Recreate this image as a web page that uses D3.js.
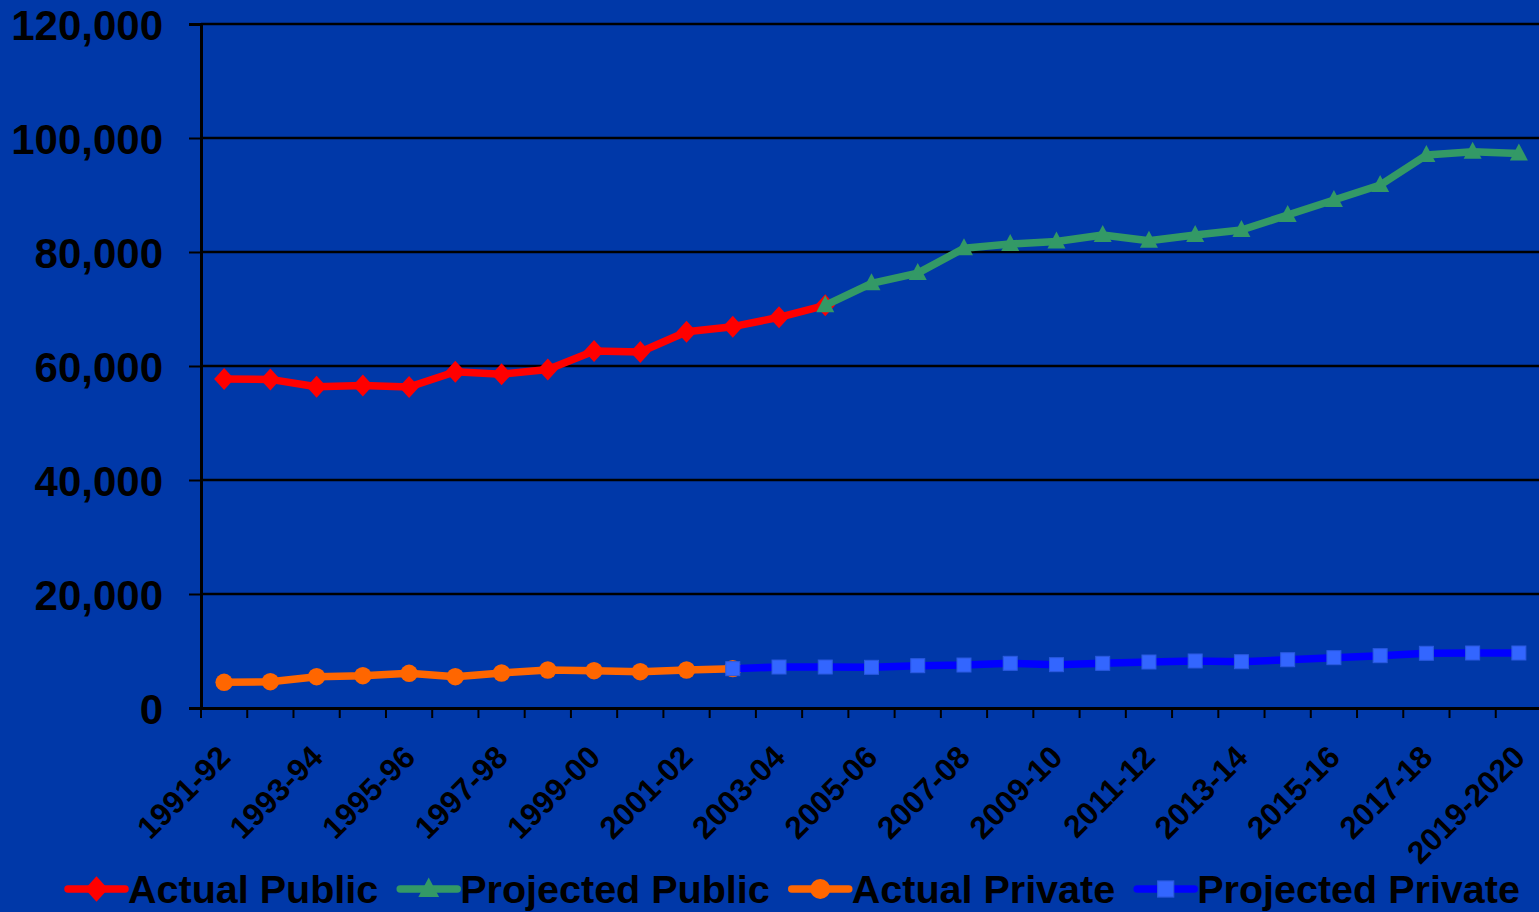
<!DOCTYPE html>
<html>
<head>
<meta charset="utf-8">
<script src="https://cdn.jsdelivr.net/npm/d3@7"></script>
<style>
  html, body { margin: 0; padding: 0; background: #0038a8; overflow: hidden; }
  svg { display: block; }
  text { font-family: "Liberation Sans", Arial, Helvetica, sans-serif; font-weight: bold; fill: #000; }
</style>
</head>
<body>
<svg id="chart" width="1539" height="912"></svg>
<script>
const categories = ["1991-92","1992-93","1993-94","1994-95","1995-96","1996-97","1997-98","1998-99","1999-00","2000-01",
  "2001-02","2002-03","2003-04","2004-05","2005-06","2006-07","2007-08","2008-09","2009-10","2010-11",
  "2011-12","2012-13","2013-14","2014-15","2015-16","2016-17","2017-18","2018-19","2019-2020"];

const yTicks = [0, 20000, 40000, 60000, 80000, 100000, 120000];

const actualPublic = [57700, 57650, 56370, 56600, 56320, 59000, 58550, 59400, 62630, 62450,
  66000, 66900, 68550, 70650, null, null, null, null, null, null,
  null, null, null, null, null, null, null, null, null];

const projectedPublic = [null, null, null, null, null, null, null, null, null, null,
  null, null, null, 70650, 74500, 76300, 80650, 81400, 81850, 82980,
  81980, 82980, 83860, 86490, 89120, 91750, 97000, 97600, 97300];

const actualPrivate = [4510, 4610, 5490, 5670, 6090, 5490, 6140, 6670, 6540, 6370,
  6670, 6900, null, null, null, null, null, null, null, null,
  null, null, null, null, null, null, null, null, null];

const projectedPrivate = [null, null, null, null, null, null, null, null, null, null,
  null, 6900, 7190, 7190, 7140, 7420, 7540, 7840, 7600, 7840,
  8070, 8250, 8120, 8470, 8830, 9180, 9600, 9650, 9650];

const seriesNames = ["Actual Public", "Projected Public", "Actual Private", "Projected Private"];

const svg = d3.select("#chart");
const plotLeft = 201, plotRight = 1542, plotTop = 24, plotBottom = 708;

const x = d3.scaleBand().domain(categories).range([plotLeft, plotRight]).padding(0);
const y = d3.scaleLinear().domain([0, 120000]).range([plotBottom, plotTop]);
const cx = c => x(c) + x.bandwidth() / 2;

// gridlines
svg.append("g").selectAll("line").data(yTicks.filter(d => d > 0)).join("line")
  .attr("x1", plotLeft).attr("x2", plotRight)
  .attr("y1", d => y(d)).attr("y2", d => y(d))
  .attr("stroke", "#000").attr("stroke-width", 2.5);

// y axis
const yAxis = svg.append("g").attr("transform", `translate(${plotLeft},0)`)
  .call(d3.axisLeft(y).tickValues(yTicks).tickFormat(d3.format(",")).tickSize(12).tickPadding(26));
yAxis.select(".domain").attr("stroke", "#000").attr("stroke-width", 3);
yAxis.selectAll(".tick line").attr("stroke", "#000").attr("stroke-width", 2);
yAxis.selectAll(".tick text").attr("font-size", 42).attr("fill", "#000")
  .attr("font-family", '"Liberation Sans", Arial, sans-serif').attr("font-weight", "bold").attr("dy", "0.36em");

// x axis
const xAxis = svg.append("g").attr("transform", `translate(0,${plotBottom})`)
  .call(d3.axisBottom(x).tickSize(0).tickFormat(""));
xAxis.select(".domain").attr("stroke", "#000").attr("stroke-width", 3);
xAxis.selectAll(".tick").remove();
// category boundary ticks
svg.append("g").selectAll("line").data(categories).join("line")
  .attr("x1", d => x(d)).attr("x2", d => x(d))
  .attr("y1", plotBottom).attr("y2", plotBottom + 10)
  .attr("stroke", "#000").attr("stroke-width", 2);

// x labels (every other)
svg.append("g").selectAll("text").data(categories.filter((d, i) => i % 2 === 0)).join("text")
  .attr("transform", d => `translate(${cx(d) + 8},${plotBottom + 51}) rotate(-45)`)
  .attr("text-anchor", "end")
  .attr("font-size", 31.5)
  .text(d => d);

// series
const defs = [
  { name: seriesNames[0], values: actualPublic, stroke: "#ff0000", marker: "diamond", fill: "#ff0000" },
  { name: seriesNames[1], values: projectedPublic, stroke: "#339966", marker: "triangle", fill: "#339966" },
  { name: seriesNames[2], values: actualPrivate, stroke: "#ff6600", marker: "circle", fill: "#ff6600" },
  { name: seriesNames[3], values: projectedPrivate, stroke: "#0000ff", marker: "square", fill: "#3366ff" }
];

function drawMarker(g, type, fill) {
  if (type === "diamond") {
    g.append("path").attr("d", "M0,-11 L10,0 L0,11 L-10,0 Z").attr("fill", fill);
  } else if (type === "triangle") {
    g.append("path").attr("d", "M0,-10 L9,7 L-9,7 Z").attr("fill", fill);
  } else if (type === "circle") {
    g.append("circle").attr("r", 8.7).attr("fill", fill);
  } else if (type === "square") {
    g.append("rect").attr("x", -7).attr("y", -7).attr("width", 14).attr("height", 14)
      .attr("fill", fill).attr("stroke", "#2b5ae0").attr("stroke-width", 1);
  }
}

const line = d3.line()
  .defined(d => d.v != null)
  .x(d => cx(d.c)).y(d => y(d.v));

defs.forEach(s => {
  const pts = categories.map((c, i) => ({ c, v: s.values[i] }));
  const g = svg.append("g");
  g.append("path").datum(pts).attr("d", line)
    .attr("fill", "none").attr("stroke", s.stroke).attr("stroke-width", 7.5)
    .attr("stroke-linejoin", "round");
  pts.filter(p => p.v != null).forEach(p => {
    const mg = g.append("g").attr("transform", `translate(${cx(p.c)},${y(p.v)})`);
    drawMarker(mg, s.marker, s.fill);
  });
});

// legend
const legend = svg.append("g");
let lx = 68;
const ly = 889;
defs.forEach(s => {
  const g = legend.append("g");
  g.append("line").attr("x1", lx).attr("x2", lx + 57).attr("y1", ly).attr("y2", ly)
    .attr("stroke", s.stroke).attr("stroke-width", 7.5).attr("stroke-linecap", "round");
  const mg = g.append("g").attr("transform", `translate(${lx + 28.5},${ly}) scale(1.15)`);
  drawMarker(mg, s.marker, s.fill);
  const t = g.append("text").attr("x", lx + 60).attr("y", ly + 14).attr("font-size", 39.5).text(s.name);
  lx = lx + 60 + t.node().getComputedTextLength() + 22;
});
</script>
</body>
</html>
